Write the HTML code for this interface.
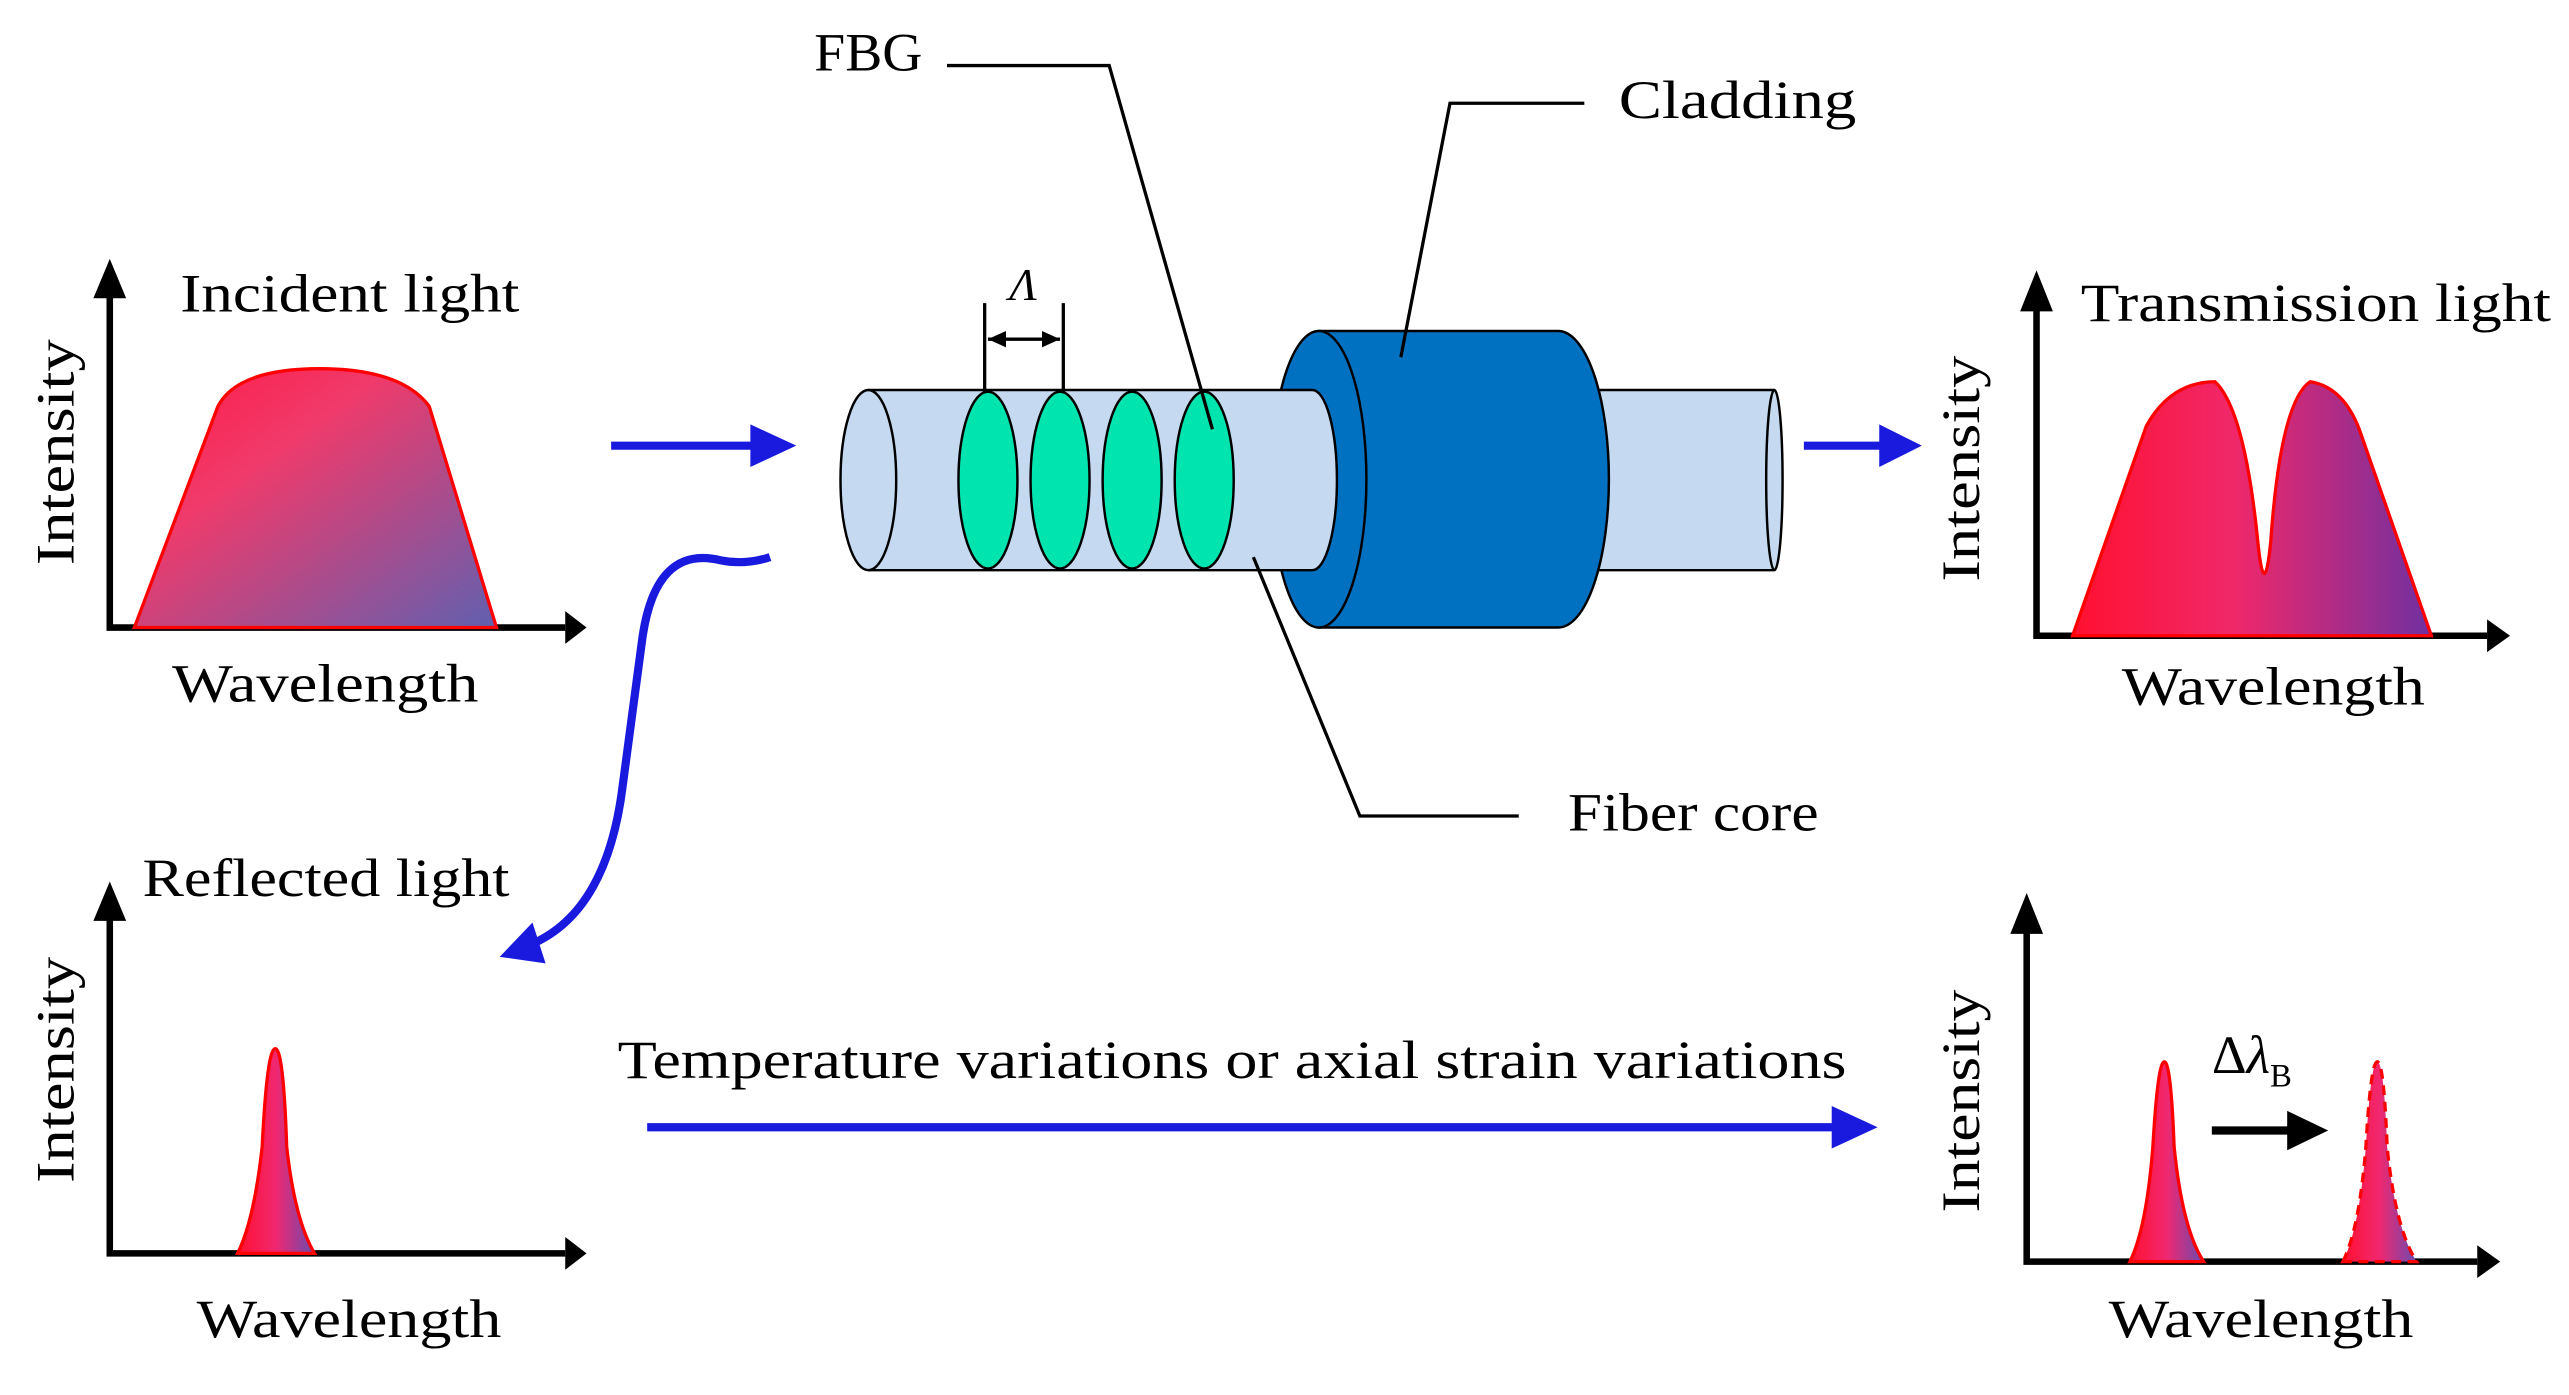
<!DOCTYPE html>
<html><head><meta charset="utf-8"><style>html,body{margin:0;padding:0;background:#fff}svg{display:block}</style></head>
<body>
<svg width="2569" height="1395" viewBox="0 0 1568 851.4" xmlns="http://www.w3.org/2000/svg" font-family="Liberation Serif, serif" font-size="33">
<defs>
<linearGradient id="g1" x1="0" y1="0" x2="1" y2="1"><stop offset="0" stop-color="#ff1744"/><stop offset="0.35" stop-color="#f03a6a"/><stop offset="1" stop-color="#6060b0"/></linearGradient>
<linearGradient id="g2" x1="0" y1="0" x2="1" y2="0"><stop offset="0" stop-color="#ff1030"/><stop offset="0.45" stop-color="#f0286a"/><stop offset="1" stop-color="#7030a0"/></linearGradient>
<linearGradient id="g3" x1="0" y1="0" x2="1" y2="0"><stop offset="0" stop-color="#ff1030"/><stop offset="0.5" stop-color="#f02870"/><stop offset="1" stop-color="#6a4ab0"/></linearGradient>
</defs>
<!-- incident axes -->
<path d="M67,170 V383 H345" stroke="#000" stroke-width="4" fill="none"/>
<path d="M57,182 L67,158 L77,182 Z M345,373 L358,383 L345,393 Z"/>
<path d="M82,383 L133,248 Q145,225 195,225 Q245,225 262,248 L303,383 Z" fill="url(#g1)" stroke="#ff0000" stroke-width="2"/>
<text x="110" y="190" textLength="207" lengthAdjust="spacingAndGlyphs">Incident light</text>
<text x="105" y="428" textLength="187" lengthAdjust="spacingAndGlyphs">Wavelength</text>
<text transform="translate(45,345) rotate(-90)" textLength="138" lengthAdjust="spacingAndGlyphs">Intensity</text>
<!-- arrows -->
<path d="M373,272 H462" stroke="#1a1adf" stroke-width="5"/><path d="M458,259 L486,272 L458,285 Z" fill="#1a1adf"/>
<path d="M1101,272 H1152" stroke="#1a1adf" stroke-width="5"/><path d="M1147,259 L1173,272 L1147,285 Z" fill="#1a1adf"/>
<!-- fiber right core -->
<g stroke="#000" stroke-width="1.5">
<rect x="950" y="238" width="133" height="110" fill="#c5daf0" stroke="none"/>
<path d="M950,238 H1083 M950,348 H1083" fill="none"/>
<ellipse cx="1083" cy="293" rx="5" ry="55" fill="#c5daf0"/>
<!-- cladding -->
<path d="M805,202 H951 A31,90.5 0 0 1 951,383 H805 Z" fill="#0070c0"/>
<ellipse cx="805" cy="292.5" rx="29" ry="90.5" fill="#0070c0"/>
<!-- core -->
<rect x="530" y="238" width="271" height="110" fill="#c5daf0" stroke="none"/>
<path d="M530,238 H801 A15,55 0 0 1 801,348 H530" fill="#c5daf0"/>
<ellipse cx="530" cy="293" rx="17" ry="55" fill="#c5daf0"/>
<ellipse cx="603" cy="293" rx="18" ry="54" fill="#00e5b0"/>
<ellipse cx="647" cy="293" rx="18" ry="54" fill="#00e5b0"/>
<ellipse cx="691" cy="293" rx="18" ry="54" fill="#00e5b0"/>
<ellipse cx="735" cy="293" rx="18" ry="54" fill="#00e5b0"/>
</g>
<!-- Lambda -->
<g stroke="#000" stroke-width="2" fill="none"><path d="M601,185 V240 M649,185 V240 M603,207 H647"/></g>
<path d="M603,207 L614,202 L614,212 Z M647,207 L636,202 L636,212 Z"/>
<text x="616" y="183" font-style="italic" font-size="28">Λ</text>
<!-- leaders -->
<g stroke="#000" stroke-width="2" fill="none">
<path d="M578,40 H677 L740,262"/>
<path d="M967,63 H885 L855,218"/>
<path d="M927,498 H830 L765,340"/>
</g>
<text x="497" y="43" textLength="66" lengthAdjust="spacingAndGlyphs">FBG</text>
<text x="988" y="72" textLength="145" lengthAdjust="spacingAndGlyphs">Cladding</text>
<text x="957" y="507" textLength="153" lengthAdjust="spacingAndGlyphs">Fiber core</text>
<!-- transmission -->
<path d="M1243,178 V388 H1518" stroke="#000" stroke-width="4" fill="none"/>
<path d="M1233,190 L1243,165 L1253,190 Z M1518,378 L1532,388 L1518,398 Z"/>
<path d="M1265,388 L1310,260 Q1325,233 1352,233 Q1370,250 1378,330 Q1382,370 1386,330 Q1392,245 1410,233 Q1430,236 1440,262 L1484,388 Z" fill="url(#g2)" stroke="#ff0000" stroke-width="2"/>
<text x="1270" y="196" textLength="287" lengthAdjust="spacingAndGlyphs">Transmission light</text>
<text x="1295" y="430" textLength="185" lengthAdjust="spacingAndGlyphs">Wavelength</text>
<text transform="translate(1208,355) rotate(-90)" textLength="138" lengthAdjust="spacingAndGlyphs">Intensity</text>
<!-- wavy arrow -->
<path d="M470,340 Q455,345 440,342 Q400,332 392,390 L380,480 Q370,560 320,578" stroke="#1a1adf" stroke-width="5" fill="none"/>
<path d="M305,584 L325,563 L333,588 Z" fill="#1a1adf"/>
<!-- reflected -->
<path d="M67,550 V765 H345" stroke="#000" stroke-width="4" fill="none"/>
<path d="M57,562 L67,538 L77,562 Z M345,755 L358,765 L345,775 Z"/>
<path d="M145,765 Q155,745 160,700 Q163,640 168,640 Q173,640 175,700 Q180,745 192,765 Z" fill="url(#g3)" stroke="#ff0000" stroke-width="2"/>
<text x="87" y="547" textLength="224" lengthAdjust="spacingAndGlyphs">Reflected light</text>
<text x="120" y="816" textLength="186" lengthAdjust="spacingAndGlyphs">Wavelength</text>
<text transform="translate(45,722) rotate(-90)" textLength="138" lengthAdjust="spacingAndGlyphs">Intensity</text>
<!-- temperature -->
<text x="377" y="658" textLength="750" lengthAdjust="spacingAndGlyphs">Temperature variations or axial strain variations</text>
<path d="M395,688 H1122" stroke="#1a1adf" stroke-width="5"/><path d="M1118,675 L1146,688 L1118,701 Z" fill="#1a1adf"/>
<!-- bottom right -->
<path d="M1237,558 V770 H1512" stroke="#000" stroke-width="4" fill="none"/>
<path d="M1227,570 L1237,545 L1247,570 Z M1512,760 L1526,770 L1512,780 Z"/>
<path d="M1300,770 Q1310,750 1314,700 Q1317,648 1321,648 Q1325,648 1327,700 Q1332,750 1345,770 Z" fill="url(#g3)" stroke="#ff0000" stroke-width="2"/>
<path d="M1430,770 Q1440,750 1444,700 Q1447,648 1451,648 Q1455,648 1457,700 Q1462,750 1475,770 Z" fill="url(#g3)" stroke="#ff0000" stroke-width="2" stroke-dasharray="6,4"/>
<text x="1350" y="655">Δ<tspan font-style="italic">λ</tspan><tspan font-size="20" dy="8">B</tspan></text>
<path d="M1350,690 H1400" stroke="#000" stroke-width="5"/><path d="M1396,678 L1421,690 L1396,702 Z"/>
<text x="1287" y="816" textLength="186" lengthAdjust="spacingAndGlyphs">Wavelength</text>
<text transform="translate(1208,740) rotate(-90)" textLength="136" lengthAdjust="spacingAndGlyphs">Intensity</text>
</svg>
</body></html>
